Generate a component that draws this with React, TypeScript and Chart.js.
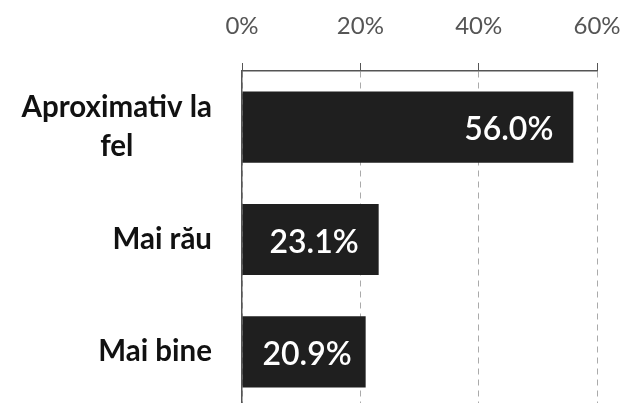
import React, { useEffect, useRef } from "react";
import { Chart, registerables } from "chart.js";
Chart.register(...registerables);

const categories: string[][] = [["Aproximativ la", "fel"], ["Mai rău"], ["Mai bine"]];
const values: number[] = [56.0, 23.1, 20.9];
const xTicks: number[] = [0, 20, 40, 60];

export default function App() {
  const ref = useRef<HTMLCanvasElement>(null);
  useEffect(() => {
    if (!ref.current) return;
    const labelsPlugin = {
      id: "customLabels",
      afterDatasetsDraw(chart: any) {
        const ctx = chart.ctx as CanvasRenderingContext2D;
        const yScale = chart.scales.y;
        const meta = chart.getDatasetMeta(0);
        ctx.save();
        ctx.font = "bold 29.5px Lato";
        ctx.fillStyle = "#111";
        ctx.textBaseline = "middle";
        ctx.textAlign = "center";
        categories.forEach((lines, i) => {
          const yc = yScale.getPixelForTick(i);
          const w = Math.max(...lines.map((l) => ctx.measureText(l).width));
          const right = chart.chartArea.left - 30;
          const cx = right - w / 2;
          const lh = 39;
          lines.forEach((l, j) => {
            ctx.fillText(l, cx, yc + (j - (lines.length - 1) / 2) * lh);
          });
        });
        ctx.font = "600 32px Lato";
        ctx.fillStyle = "#fff";
        ctx.textAlign = "left";
        ctx.textBaseline = "alphabetic";
        meta.data.forEach((bar: any, i: number) => {
          const txt = values[i].toFixed(1) + "%";
          const w = ctx.measureText(txt).width;
          const x = Math.max(bar.x - 20 - w, bar.base + 20);
          ctx.fillText(txt, x, bar.y + 13);
        });
        ctx.restore();
      },
    };
    const chart = new Chart(ref.current, {
      type: "bar",
      data: {
        labels: categories.map((c) => c.join(" ")),
        datasets: [
          {
            data: values,
            backgroundColor: "#1f1f1f",
            barPercentage: 0.634,
            categoryPercentage: 1,
          },
        ],
      },
      options: {
        indexAxis: "y",
        responsive: false,
        animation: false,
        layout: { padding: { top: 0, right: 28, left: 0, bottom: 0 } },
        plugins: { legend: { display: false }, tooltip: { enabled: false } },
        scales: {
          x: {
            position: "top",
            min: 0,
            max: 60,
            afterBuildTicks: (s: any) => {
              s.ticks = xTicks.map((v) => ({ value: v }));
            },
            afterFit: (s: any) => {
              s.height = 71;
              s.paddingRight = 0;
              s.paddingLeft = 0;
            },
            ticks: {
              callback: (v: any) => v + "%",
              color: "#555",
              font: { family: "Lato", size: 24 },
              padding: 22,
            },
            grid: {
              color: "#aaa",
              lineWidth: 1,
              tickLength: 8,
              tickColor: "#555",
              tickBorderDash: [],
            },
            border: { display: true, color: "#555", width: 1.5, dash: [6, 5] },
          },
          y: {
            ticks: { display: false },
            grid: { display: false },
            border: { display: true, color: "#555", width: 1.5 },
            afterFit: (s: any) => {
              s.width = 242;
              s.paddingTop = 0;
              s.paddingBottom = 0;
            },
          },
        },
      },
      plugins: [labelsPlugin],
    } as any);
    return () => chart.destroy();
  }, []);
  return (
    <div style={{ position: "fixed", top: 0, left: 0, width: 625, height: 403, overflow: "hidden", background: "#fff" }}>
      <canvas ref={ref} width={625} height={408} style={{ display: "block", width: 625, height: 408 }} />
    </div>
  );
}
